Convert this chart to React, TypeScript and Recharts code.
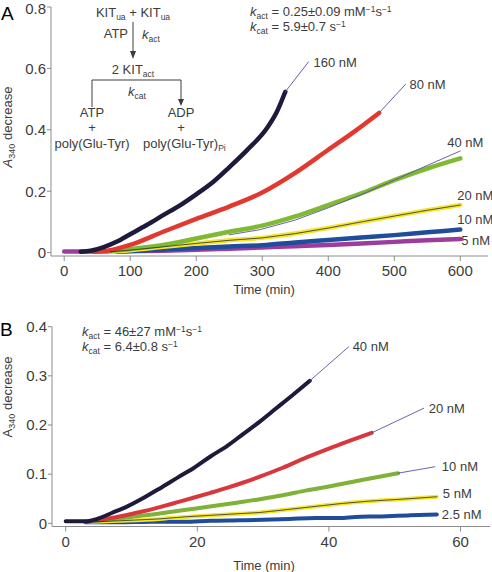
import { LineChart, Line, XAxis, YAxis } from 'recharts';

type Pt = [number, number];

// Panel A: KIT_ua autoactivation, A340 decrease vs time (min)
const a160: Pt[] = [[25, 0.003], [40, 0.006], [60, 0.018], [80, 0.036], [100, 0.06], [125, 0.09], [150, 0.122], [176, 0.155], [200, 0.19], [226, 0.231], [250, 0.278], [277, 0.334], [307, 0.405], [322, 0.458], [335, 0.524]];
const a80: Pt[] = [[45, 0.003], [70, 0.008], [100, 0.025], [150, 0.068], [200, 0.11], [250, 0.15], [300, 0.196], [350, 0.26], [400, 0.335], [440, 0.395], [477, 0.455]];
const a40: Pt[] = [[60, 0.003], [100, 0.012], [150, 0.025], [200, 0.046], [250, 0.068], [300, 0.088], [350, 0.118], [400, 0.155], [450, 0.193], [500, 0.236], [550, 0.274], [600, 0.307]];
const a20: Pt[] = [[70, 0.003], [100, 0.008], [150, 0.019], [200, 0.03], [250, 0.04], [300, 0.048], [350, 0.062], [400, 0.08], [450, 0.1], [500, 0.119], [550, 0.138], [600, 0.155]];
const a10: Pt[] = [[80, 0.003], [150, 0.01], [200, 0.015], [250, 0.02], [300, 0.024], [350, 0.033], [400, 0.041], [450, 0.049], [500, 0.057], [550, 0.066], [600, 0.075]];
const a5: Pt[] = [[0, 0.004], [50, 0.004], [100, 0.005], [150, 0.006], [200, 0.009], [250, 0.013], [300, 0.017], [350, 0.021], [400, 0.025], [450, 0.03], [500, 0.035], [550, 0.04], [600, 0.044]];
// model fits (only the visible parts)
const fitA160: Pt[] = [[335, 0.524], [370, 0.621]];
const fitA80: Pt[] = [[477, 0.455], [517, 0.548]];
const fitA40: Pt[] = [[250, 0.058], [297, 0.075], [350, 0.106], [400, 0.146], [450, 0.189], [500, 0.236], [550, 0.284], [600, 0.331]];

// Panel B
const b40: Pt[] = [[0, 0.004], [3, 0.004], [5, 0.01], [7, 0.021], [9.3, 0.034], [12, 0.053], [14.3, 0.071], [17, 0.093], [19.4, 0.112], [22, 0.136], [24.5, 0.157], [27, 0.182], [29.5, 0.207], [32, 0.234], [34.5, 0.261], [37.1, 0.29]];
const b20: Pt[] = [[3, 0.003], [5, 0.007], [7, 0.011], [9.3, 0.017], [12, 0.025], [14.3, 0.033], [17, 0.043], [19.4, 0.052], [22, 0.062], [24.5, 0.072], [27, 0.083], [29.5, 0.095], [33, 0.113], [36.6, 0.134], [40, 0.152], [43, 0.167], [46.5, 0.184]];
const b10: Pt[] = [[3.5, 0.003], [7, 0.008], [10, 0.013], [14.3, 0.02], [18, 0.027], [21.9, 0.034], [26, 0.042], [29.5, 0.049], [33, 0.057], [36.6, 0.067], [40, 0.075], [45, 0.088], [50.5, 0.102]];
const b5: Pt[] = [[4, 0.003], [8, 0.005], [14.3, 0.009], [18, 0.013], [22.9, 0.017], [29.5, 0.022], [33, 0.027], [37, 0.033], [41.7, 0.04], [46, 0.045], [51, 0.049], [56.4, 0.054]];
const b2_5: Pt[] = [[3, 0.002], [8, 0.002], [13, 0.003], [18, 0.003], [22, 0.005], [26.5, 0.006], [30, 0.007], [34, 0.009], [38, 0.011], [41.7, 0.011], [44, 0.013], [48, 0.014], [52, 0.016], [56.4, 0.018]];
const fitB40: Pt[] = [[37.1, 0.29], [43, 0.359]];
const fitB20: Pt[] = [[46.5, 0.184], [54.4, 0.234]];
const fitB10: Pt[] = [[50.5, 0.102], [56.1, 0.115]];

const ticksAx = [0, 100, 200, 300, 400, 500, 600];
const ticksAy = [0, 0.2, 0.4, 0.6, 0.8];
const ticksBx = [0, 20, 40, 60];
const ticksBy = [0, 0.1, 0.2, 0.3, 0.4];

const FONT = '"Liberation Sans", Arial, Helvetica, sans-serif';
const AXIS = '#8c8c8c';
const INK = '#3c3c3c';
const FIT = '#5b4f9e';

interface Series {
  name: string;
  pts: Pt[];
  color: string;
  width: number;
  label?: string;
  dx?: number;
  dy?: number;
}

const rows = (pts: Pt[]) => pts.map(([t, v]) => ({ t, v }));

const endLabel = (s: Series) => {
  if (!s.label) return false;
  const last = s.pts.length - 1;
  return (p: any) =>
    p.index === last ? (
      <text
        key={`lbl-${s.name}`}
        x={p.x + (s.dx ?? 5)}
        y={p.y + (s.dy ?? 0)}
        dy="0.35em"
        fontSize={13}
        fill={INK}
        fontFamily={FONT}
      >
        {s.label}
      </text>
    ) : (
      <g key={`lbl-${s.name}-${p.index}`} />
    );
};

const seriesA: Series[] = [
  { name: 'a5', pts: a5, color: '#9c3d9e', width: 4.5, label: '5 nM', dx: 1, dy: 1 },
  { name: 'a10', pts: a10, color: '#1f4d9c', width: 4.5, label: '10 nM', dx: -3, dy: -10 },
  { name: 'a20', pts: a20, color: '#f3e62c', width: 4.5, label: '20 nM', dx: -3, dy: -10 },
  { name: 'a40', pts: a40, color: '#80b934', width: 4.5 },
  { name: 'a80', pts: a80, color: '#e2382f', width: 4.5 },
  { name: 'a160', pts: a160, color: '#1d1a3b', width: 4.5 },
  { name: 'a20fit', pts: a20, color: '#2a2a2a', width: 0.8 },
  { name: 'fitA40', pts: fitA40, color: FIT, width: 0.9, label: '40 nM', dx: -13, dy: -9 },
  { name: 'fitA80', pts: fitA80, color: FIT, width: 0.9, label: '80 nM', dx: 4, dy: 0 },
  { name: 'fitA160', pts: fitA160, color: FIT, width: 0.9, label: '160 nM', dx: 5, dy: 0 },
];

const seriesB: Series[] = [
  { name: 'b2_5', pts: b2_5, color: '#1f4d9c', width: 4, label: '2.5 nM', dx: 5, dy: 0 },
  { name: 'b5', pts: b5, color: '#f3e62c', width: 4, label: '5 nM', dx: 6, dy: -3 },
  { name: 'b10', pts: b10, color: '#7fb236', width: 4 },
  { name: 'b20', pts: b20, color: '#d8383d', width: 4 },
  { name: 'b40', pts: b40, color: '#1d1a3b', width: 4 },
  { name: 'b5fit', pts: b5, color: '#2a2a2a', width: 0.8 },
  { name: 'fitB10', pts: fitB10, color: FIT, width: 0.9, label: '10 nM', dx: 7, dy: 0 },
  { name: 'fitB20', pts: fitB20, color: FIT, width: 0.9, label: '20 nM', dx: 5, dy: 0 },
  { name: 'fitB40', pts: fitB40, color: FIT, width: 0.9, label: '40 nM', dx: 4, dy: 0 },
];

const tickStyle = { fill: INK, fontSize: 15, fontFamily: FONT };

function Panel({
  series,
  xDomain,
  yDomain,
  xTicks,
  yTicks,
  height,
  top,
  right,
  yWidth,
  xHeight,
  xMargin,
}: {
  series: Series[];
  xDomain: [number, number];
  yDomain: [number, number];
  xTicks: number[];
  yTicks: number[];
  height: number;
  top: number;
  right: number;
  yWidth: number;
  xHeight: number;
  xMargin: number;
}) {
  return (
    <LineChart width={492} height={height} margin={{ top, right, bottom: 0, left: 0 }}>
      <XAxis
        type="number"
        dataKey="t"
        domain={xDomain}
        ticks={xTicks}
        height={xHeight}
        stroke={AXIS}
        tickSize={5}
        tickMargin={xMargin}
        tick={tickStyle}
        allowDataOverflow
      />
      <YAxis
        type="number"
        dataKey="v"
        domain={yDomain}
        ticks={yTicks}
        width={yWidth}
        stroke={AXIS}
        tickSize={4}
        tickMargin={1}
        tick={tickStyle}
        allowDataOverflow
      />
      {series.map((s) => (
        <Line
          key={s.name}
          data={rows(s.pts)}
          dataKey="v"
          type={s.width < 2 ? 'linear' : 'monotone'}
          stroke={s.color}
          strokeWidth={s.width}
          strokeLinecap="round"
          dot={false}
          activeDot={false}
          label={endLabel(s)}
          isAnimationActive={false}
        />
      ))}
    </LineChart>
  );
}

const sub = (t: string) => (
  <tspan fontSize={8.5} dy={3}>
    {t}
  </tspan>
);

function Overlay() {
  return (
    <svg
      width={492}
      height={572}
      style={{ position: 'absolute', left: 0, top: 0, pointerEvents: 'none' }}
      fontFamily={FONT}
      fill={INK}
    >
      {/* panel letters */}
      <text x={1} y={20} fontSize={19} fill="#000">A</text>
      <text x={0} y={336} fontSize={19} fill="#000">B</text>

      {/* axis titles */}
      <text transform="translate(12,127) rotate(-90)" textAnchor="middle" fontSize={13}>
        <tspan fontStyle="italic">A</tspan>
        <tspan fontSize={9} dy={3}>340</tspan>
        <tspan dy={-3}> decrease</tspan>
      </text>
      <text x={264} y={294} textAnchor="middle" fontSize={13}>Time (min)</text>
      <text transform="translate(12,397) rotate(-90)" textAnchor="middle" fontSize={13}>
        <tspan>A</tspan>
        <tspan fontSize={9} dy={3}>340</tspan>
        <tspan dy={-3}> decrease</tspan>
      </text>
      <text x={264} y={570} textAnchor="middle" fontSize={13}>Time (min)</text>

      {/* rate constants */}
      <text x={250} y={16} fontSize={13}>
        <tspan fontStyle="italic">k</tspan>
        {sub('act')}
        <tspan dy={-3}> = 0.25±0.09 mM</tspan>
        <tspan fontSize={8.5} dy={-4}>−1</tspan>
        <tspan dy={4}>s</tspan>
        <tspan fontSize={8.5} dy={-4}>−1</tspan>
      </text>
      <text x={250} y={31} fontSize={13}>
        <tspan fontStyle="italic">k</tspan>
        {sub('cat')}
        <tspan dy={-3}> = 5.9±0.7 s</tspan>
        <tspan fontSize={8.5} dy={-4}>−1</tspan>
      </text>
      <text x={82} y={336} fontSize={13}>
        <tspan fontStyle="italic">k</tspan>
        {sub('act')}
        <tspan dy={-3}> = 46±27 mM</tspan>
        <tspan fontSize={8.5} dy={-4}>−1</tspan>
        <tspan dy={4}>s</tspan>
        <tspan fontSize={8.5} dy={-4}>−1</tspan>
      </text>
      <text x={82} y={351} fontSize={13}>
        <tspan fontStyle="italic">k</tspan>
        {sub('cat')}
        <tspan dy={-3}> = 6.4±0.8 s</tspan>
        <tspan fontSize={8.5} dy={-4}>−1</tspan>
      </text>

      {/* reaction scheme */}
      <text x={133} y={17} textAnchor="middle" fontSize={13}>
        <tspan>KIT</tspan>
        {sub('ua')}
        <tspan dy={-3}> + KIT</tspan>
        {sub('ua')}
      </text>
      <line x1={133} y1={22} x2={133} y2={52} stroke={INK} strokeWidth={1} />
      <polygon points="130,51 136,51 133,59" fill={INK} />
      <text x={128} y={38} textAnchor="end" fontSize={13}>ATP</text>
      <text x={142} y={39} fontSize={13}>
        <tspan fontStyle="italic">k</tspan>
        {sub('act')}
      </text>
      <text x={133} y={74} textAnchor="middle" fontSize={13}>
        <tspan>2 KIT</tspan>
        {sub('act')}
      </text>
      <polyline points="92,107 92,80 181,80 181,100" fill="none" stroke={INK} strokeWidth={1} />
      <polygon points="178,99 184,99 181,106" fill={INK} />
      <text x={128} y={96} fontSize={13}>
        <tspan fontStyle="italic">k</tspan>
        {sub('cat')}
      </text>
      <text x={92} y={117} textAnchor="middle" fontSize={13}>ATP</text>
      <text x={92} y={132} textAnchor="middle" fontSize={13}>+</text>
      <text x={92} y={148} textAnchor="middle" fontSize={13}>poly(Glu-Tyr)</text>
      <text x={181} y={117} textAnchor="middle" fontSize={13}>ADP</text>
      <text x={181} y={132} textAnchor="middle" fontSize={13}>+</text>
      <text x={143} y={148} fontSize={13}>
        <tspan>poly(Glu-Tyr)</tspan>
        {sub('Pi')}
      </text>
    </svg>
  );
}

export default function App() {
  return (
    <div
      style={{
        position: 'absolute',
        left: 0,
        top: 0,
        width: 492,
        height: 572,
        background: '#fff',
        fontFamily: FONT,
        overflow: 'hidden',
      }}
    >
      <div style={{ position: 'absolute', left: 0, top: 0 }}>
        <Panel
          series={seriesA}
          xDomain={[-20, 642]}
          yDomain={[-0.011, 0.8]}
          xTicks={ticksAx}
          yTicks={ticksAy}
          height={296}
          top={7}
          right={4}
          yWidth={51}
          xHeight={40}
          xMargin={4}
        />
      </div>
      <div style={{ position: 'absolute', left: 0, top: 280 }}>
        <Panel
          series={seriesB}
          xDomain={[-2.08, 64.48]}
          yDomain={[-0.0065, 0.4]}
          xTicks={ticksBx}
          yTicks={ticksBy}
          height={292}
          top={46.7}
          right={2}
          yWidth={52}
          xHeight={45.5}
          xMargin={5}
        />
      </div>
      <Overlay />
    </div>
  );
}
